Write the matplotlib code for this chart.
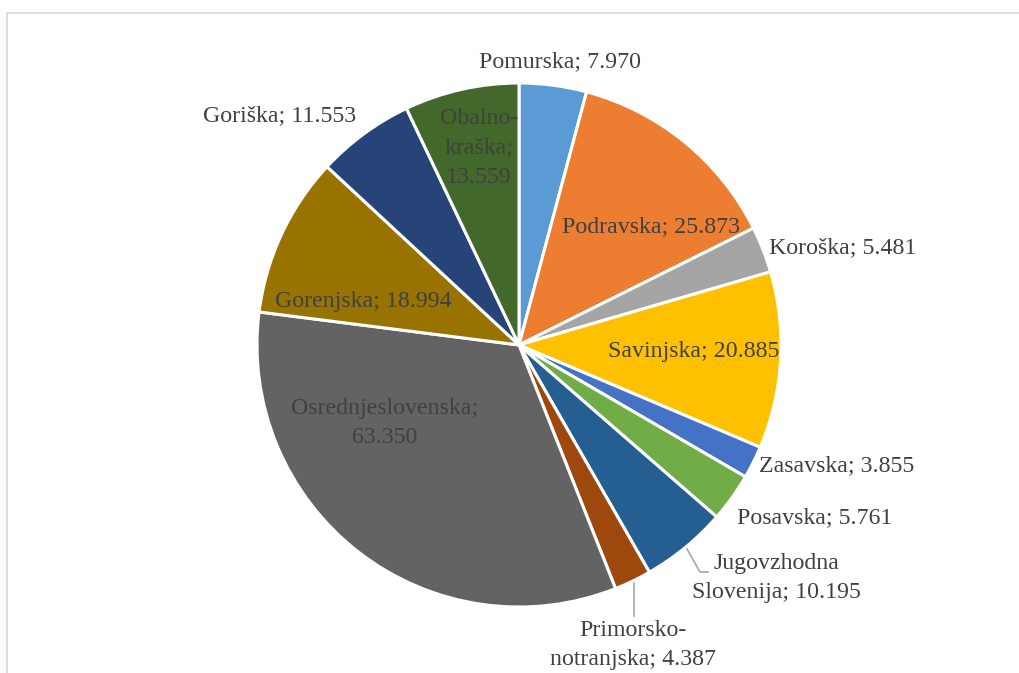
import numpy as np
import matplotlib.pyplot as plt
from matplotlib.patches import Rectangle

regions = ['Pomurska', 'Podravska', 'Koroška', 'Savinjska', 'Zasavska', 'Posavska',
           'Jugovzhodna\nSlovenija', 'Primorsko-\nnotranjska', 'Osrednjeslovenska;\n',
           'Gorenjska', 'Goriška', 'Obalno-\nkraška;\n']
values = [7.970, 25.873, 5.481, 20.885, 3.855, 5.761, 10.195, 4.387, 63.350, 18.994, 11.553, 13.559]
value_text = ['7.970', '25.873', '5.481', '20.885', '3.855', '5.761', '10.195', '4.387',
              '63.350', '18.994', '11.553', '13.559']
colors = ['#5B9BD5', '#ED7D31', '#A5A5A5', '#FFC000', '#4472C4', '#70AD47',
          '#255E91', '#9E480E', '#636363', '#997300', '#264478', '#43682B']

# label positions in pixels (x from left, y from top)
label_pos = [(560, 62), (651, 227), (843, 248), (694, 352), (837, 466), (815, 518),
             (776, 578), (633, 645), (385, 423), (363, 301), (280, 116), (479, 148)]

W, H = 1019, 673
fig = plt.figure(figsize=(W / 100, H / 100), dpi=100)
ax = fig.add_axes([0, 0, 1, 1])

cx, cy, r = 519, H - 345, 262
ax.pie(values, colors=colors, startangle=90, counterclock=False, center=(cx, cy), radius=r,
       wedgeprops=dict(edgecolor='white', linewidth=2.2), frame=True)
ax.set_xlim(0, W)
ax.set_ylim(0, H)
ax.set_aspect('auto')
ax.axis('off')

for name, vt, (x, y) in zip(regions, value_text, label_pos):
    if name.endswith('\n'):
        txt = name + vt
    else:
        txt = name + '; ' + vt
    ax.text(x, H - y, txt, ha='center', va='center', fontsize=17.2, color='#404040',
            family='Liberation Serif', linespacing=1.52)

# leader lines
ax.plot([687, 700, 708], [H - 549, H - 572, H - 572], color='#A6A6A6', lw=1.2)
ax.plot([634, 634], [H - 583, H - 616], color='#A6A6A6', lw=1.2)

# chart frame
ax.add_patch(Rectangle((7.5, -20), W, H - 13 + 20, fill=False, edgecolor='#D9D9D9', lw=1.3,
                       clip_on=False))

fig.savefig('out.png', dpi=100)
